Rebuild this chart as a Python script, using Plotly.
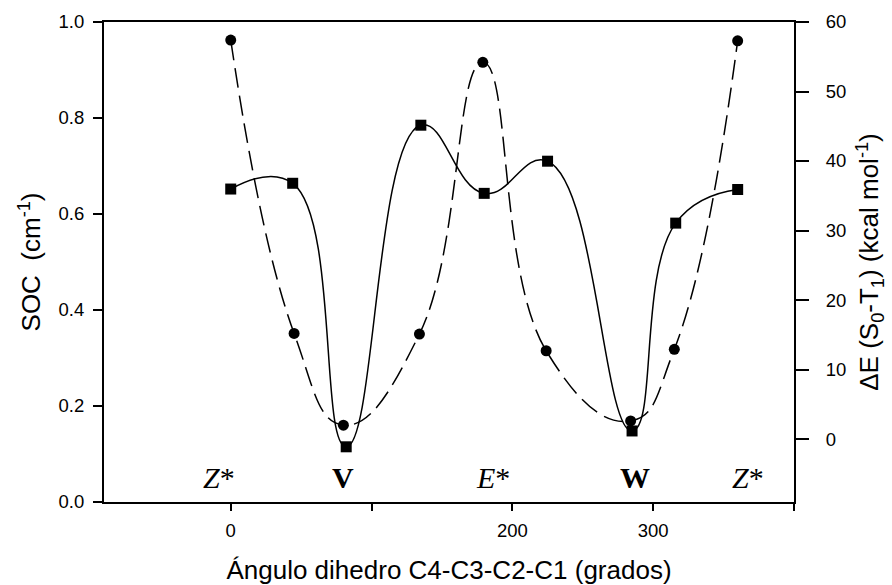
import plotly.graph_objects as go

# Dihedral angle C4-C3-C2-C1 (degrees)
angle_soc = [0, 44, 82, 135, 180, 225, 285, 316, 360]
angle_de = [0, 45, 80, 134, 179, 224, 284, 315, 360]

# Spin-orbit coupling (cm^-1), squares, left axis
soc = [0.652, 0.664, 0.115, 0.785, 0.643, 0.710, 0.148, 0.581, 0.651]
# S0-T1 energy gap (kcal/mol), circles, right axis
delta_e = [57.4, 15.2, 2.0, 15.1, 54.2, 12.7, 2.6, 12.9, 57.3]

x_ticks = [0, 100, 200, 300, 400]
x_ticktext = ["0", "", "200", "300", ""]
soc_ticks = [0.0, 0.2, 0.4, 0.6, 0.8, 1.0]
de_ticks = [0, 10, 20, 30, 40, 50, 60]

# Conformer labels along the angle axis
conf_x = [-8, 80, 186, 287, 367]
conf_text = ["<i>Z</i>*", "<b>V</b>", "<i>E</i>*", "<b>W</b>", "<i>Z</i>*"]

fig = go.Figure()

fig.add_trace(go.Scatter(
    x=angle_soc, y=soc, mode="lines+markers",
    line=dict(color="black", width=1.5, shape="spline", smoothing=1.3),
    marker=dict(symbol="square", size=11, color="black"),
    yaxis="y", showlegend=False,
))
fig.add_trace(go.Scatter(
    x=angle_de, y=delta_e, mode="lines+markers",
    line=dict(color="black", width=1.5, shape="spline", smoothing=1.3,
              dash="20px,8px"),
    marker=dict(symbol="circle", size=11, color="black"),
    yaxis="y2", showlegend=False,
))

for xv, t in zip(conf_x, conf_text):
    fig.add_annotation(
        x=xv, y=0.052, xref="x", yref="y", text=t, showarrow=False,
        font=dict(family="Liberation Serif", size=30, color="black"),
        xanchor="center", yanchor="middle",
    )

tick_font = dict(family="Liberation Sans", size=18.5, color="black")
title_font = dict(family="Liberation Sans", size=26, color="black")

fig.update_layout(
    width=892, height=585,
    margin=dict(l=104, r=98, t=22, b=83),
    paper_bgcolor="white", plot_bgcolor="white",
    xaxis=dict(
        range=[-90, 400], tickvals=x_ticks, ticktext=x_ticktext,
        ticks="outside", ticklen=7, tickwidth=1.5, tickcolor="black",
        showline=True, linewidth=2, linecolor="black", mirror=True,
        showgrid=False, zeroline=False, tickfont=tick_font,
        ticklabelstandoff=4, automargin=False,
        title=dict(text="Ángulo dihedro C4-C3-C2-C1 (grados)",
                   font=title_font, standoff=24),
    ),
    yaxis=dict(
        range=[0, 1], tickvals=soc_ticks, tickformat=".1f",
        ticks="outside", ticklen=9, tickwidth=1.5, tickcolor="black",
        showline=True, linewidth=2, linecolor="black",
        showgrid=False, zeroline=False, tickfont=tick_font,
        ticklabelstandoff=5, automargin=False,
        title=dict(text="SOC\u00a0 (cm<sup>-1</sup>)", font=title_font,
                   standoff=10),
    ),
    yaxis2=dict(
        range=[-9.06, 60], tickvals=de_ticks, overlaying="y", side="right",
        ticks="outside", ticklen=13, tickwidth=1.5, tickcolor="black",
        showline=True, linewidth=2, linecolor="black",
        showgrid=False, zeroline=False, tickfont=tick_font,
        ticklabelstandoff=13, automargin=False,
        title=dict(text="ΔE (S<sub>0</sub>-T<sub>1</sub>) (kcal mol<sup>-1</sup>)",
                   font=title_font, standoff=15),
    ),
)

fig.write_html("out.html")
